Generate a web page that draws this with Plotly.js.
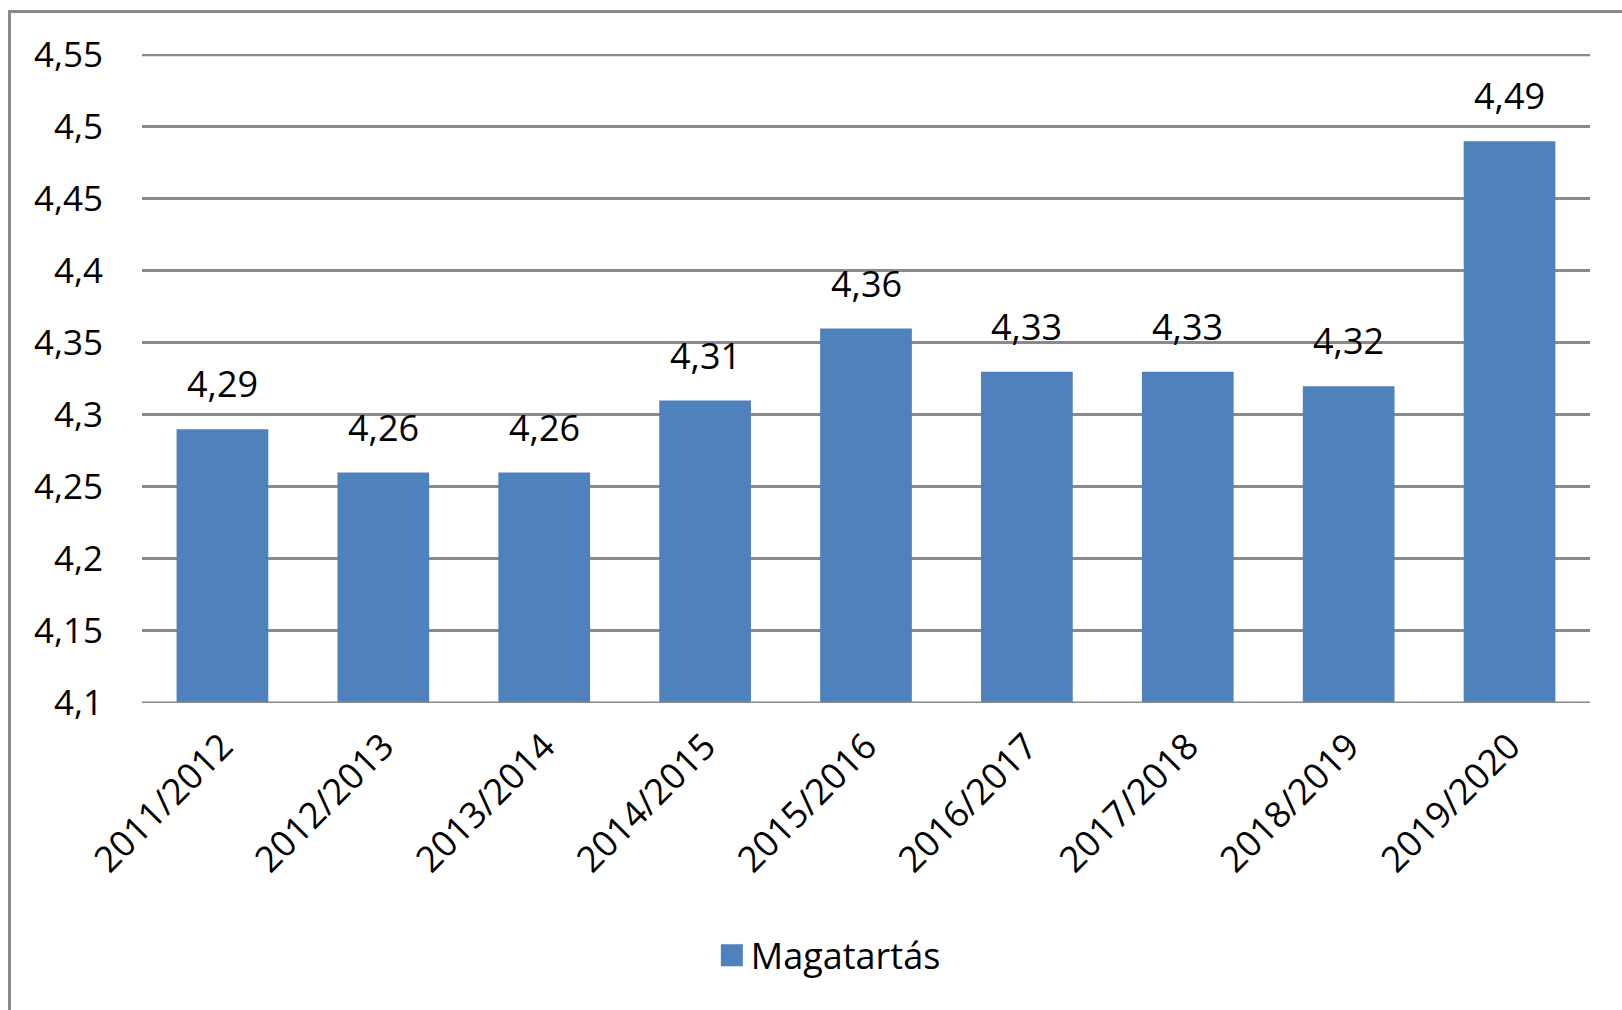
<!DOCTYPE html>
<html>
<head>
<meta charset="utf-8">
<script src="https://cdn.plot.ly/plotly-3.0.1.min.js"></script>
<style>
  html, body { margin: 0; padding: 0; background: #fff; overflow: hidden; }
  #frame { position: absolute; left: 8px; top: 10px; width: 1700px; height: 1100px;
           border: 3px solid #8a8a8a; box-sizing: border-box; }
  #chart { position: absolute; left: 0; top: 0; width: 1622px; height: 1010px; }
</style>
</head>
<body>
<div id="frame"></div>
<div id="chart"></div>
<script>
const categories = ["2011/2012","2012/2013","2013/2014","2014/2015","2015/2016","2016/2017","2017/2018","2018/2019","2019/2020"];
const values = [4.29, 4.26, 4.26, 4.31, 4.36, 4.33, 4.33, 4.32, 4.49];
const seriesName = "Magatartás";
const tickVals = [4.1, 4.15, 4.2, 4.25, 4.3, 4.35, 4.4, 4.45, 4.5, 4.55];
const tickLabels = ["4,1","4,15","4,2","4,25","4,3","4,35","4,4","4,45","4,5","4,55"];

const fmt = v => String(v).replace('.', ',');
const FONT = "Open Sans, Noto Sans, sans-serif";
const GRID = '#8a8a8a';

const trace = {
  type: 'bar',
  x: categories,
  y: values,
  name: seriesName,
  marker: { color: '#4f81bd' },
  showlegend: true,
  hoverinfo: 'x+y'
};

const annotations = categories.map((c, i) => ({
  x: c, y: values[i], xref: 'x', yref: 'y',
  text: fmt(values[i]), showarrow: false,
  yanchor: 'bottom', yshift: 19,
  font: { family: FONT, size: 36, color: '#000' }
}));

const edgeLines = [tickVals[0], tickVals[tickVals.length - 1]].map(v => ({
  type: 'line', xref: 'paper', yref: 'y', x0: 0, x1: 1, y0: v, y1: v,
  line: { color: GRID, width: 3 }, layer: 'above'
}));

const layout = {
  width: 1622, height: 1010,
  margin: { l: 142, r: 32, t: 54, b: 307, pad: 0 },
  paper_bgcolor: 'rgba(0,0,0,0)',
  plot_bgcolor: 'rgba(0,0,0,0)',
  separators: ',.',
  bargap: 0.43,
  font: { family: FONT, size: 35, color: '#000' },
  xaxis: {
    type: 'category',
    tickangle: -45,
    showgrid: false,
    showline: false,
    ticks: '',
    ticklabelstandoff: 14,
    tickfont: { family: FONT, size: 36, color: '#000' }
  },
  yaxis: {
    range: [4.1, 4.5506],
    tickmode: 'array',
    tickvals: tickVals,
    ticktext: tickLabels,
    showgrid: true,
    gridcolor: GRID,
    gridwidth: 3,
    zeroline: false,
    showline: false,
    ticks: '',
    ticklabelstandoff: 38,
    tickfont: { family: FONT, size: 35, color: '#000' }
  },
  shapes: edgeLines,
  legend: {
    orientation: 'h',
    x: 0.474, xanchor: 'center',
    y: -0.389, yanchor: 'middle',
    font: { family: FONT, size: 36, color: '#000' },
    bgcolor: 'rgba(0,0,0,0)'
  },
  annotations: annotations
};

Plotly.newPlot('chart', [trace], layout, { displayModeBar: false, staticPlot: true }).then(gd => {
  gd.querySelectorAll('.legendpoints path').forEach(p => {
    p.setAttribute('d', 'M11,11H-11V-11H11Z');
    p.setAttribute('transform', 'translate(21,0)');
  });
});
</script>
</body>
</html>
